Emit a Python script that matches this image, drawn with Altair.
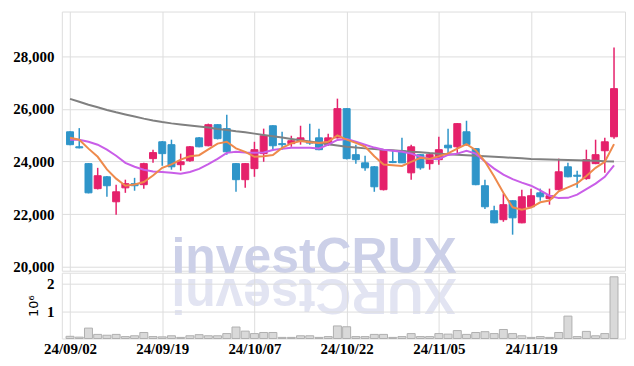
import altair as alt
import pandas as pd

dates = [
    "24/09/02", "24/09/03", "24/09/04", "24/09/05", "24/09/06", "24/09/09", "24/09/10", "24/09/11",
    "24/09/12", "24/09/13", "24/09/19", "24/09/20", "24/09/23", "24/09/24", "24/09/25", "24/09/26",
    "24/09/27", "24/09/30", "24/10/02", "24/10/04", "24/10/07", "24/10/08", "24/10/10", "24/10/11",
    "24/10/14", "24/10/15", "24/10/16", "24/10/17", "24/10/18", "24/10/21", "24/10/22", "24/10/23",
    "24/10/24", "24/10/25", "24/10/28", "24/10/29", "24/10/30", "24/10/31", "24/11/01", "24/11/04",
    "24/11/05", "24/11/06", "24/11/07", "24/11/08", "24/11/11", "24/11/12", "24/11/13", "24/11/14",
    "24/11/15", "24/11/18", "24/11/19", "24/11/20", "24/11/21", "24/11/22", "24/11/25", "24/11/26",
    "24/11/27", "24/11/28", "24/11/29", "24/12/02",
]
opens = [
    25130, 24560, 23920, 22970, 23420, 22470, 23000, 23160, 23120, 24110,
    24750, 24640, 23880, 24030, 24900, 24600, 25400, 25250, 23920, 23310,
    23730, 24300, 25360, 24680, 24680, 24790, 24750, 24900, 24640, 24900,
    26010, 24260, 23950, 23800, 22930, 24000, 24410, 23570, 24260, 23920,
    24070, 24620, 24560, 25130, 24490, 23080, 22130, 21790, 22510, 21670,
    22280, 22810, 22590, 22930, 23800, 23480, 23350, 23920, 24410, 24940,
]
highs = [
    25150, 25270, 23940, 23760, 23450, 23120, 23310, 23380, 23950, 24450,
    24780, 24830, 24300, 24590, 24930, 25440, 25420, 25780, 23940, 23940,
    24750, 25250, 25380, 25130, 24980, 25360, 25440, 25250, 25060, 26390,
    26030, 24640, 24220, 23830, 24470, 24410, 24900, 24640, 24280, 24280,
    24940, 25250, 25460, 25550, 24500, 23310, 22320, 22780, 22530, 22930,
    22970, 22970, 22970, 24110, 23950, 23650, 24450, 24830, 24900, 28330,
]
lows = [
    24620, 24500, 22790, 22940, 22660, 21980, 22810, 22890, 22970, 23950,
    23840, 23690, 23650, 23990, 24540, 24580, 24840, 24260, 22850, 23000,
    23420, 23990, 24450, 24450, 24560, 24640, 24640, 24430, 24600, 24880,
    24080, 23920, 23650, 22850, 22900, 23940, 23940, 23310, 23690, 23690,
    23880, 24260, 24260, 24600, 23100, 22200, 21650, 21710, 21220, 21650,
    22260, 22510, 22360, 22900, 23400, 23000, 23310, 23900, 23570, 24870,
]
closes = [
    24640, 24520, 22810, 23460, 23080, 22850, 23160, 23080, 23920, 24340,
    24300, 23800, 23990, 24560, 24560, 25400, 24870, 24370, 23310, 23920,
    24450, 24980, 24600, 24640, 24790, 24900, 24700, 24450, 24900, 26010,
    24110, 24070, 23760, 23040, 24450, 23960, 23950, 24560, 23760, 24260,
    24450, 24520, 25440, 24640, 23120, 22280, 21670, 22360, 21860, 22660,
    22700, 22660, 22700, 23610, 23420, 23440, 24070, 24260, 24750, 26770,
]
volumes_m = [
    0.08, 0.05, 0.38, 0.15, 0.12, 0.15, 0.07, 0.10, 0.22, 0.07,
    0.06, 0.10, 0.04, 0.10, 0.14, 0.10, 0.10, 0.18, 0.42, 0.27,
    0.18, 0.22, 0.22, 0.04, 0.04, 0.10, 0.10, 0.04, 0.07, 0.46,
    0.43, 0.07, 0.07, 0.15, 0.15, 0.04, 0.07, 0.18, 0.07, 0.07,
    0.18, 0.16, 0.29, 0.15, 0.22, 0.25, 0.18, 0.33, 0.18, 0.10,
    0.04, 0.07, 0.04, 0.22, 0.82, 0.07, 0.26, 0.10, 0.18, 2.26,
]
ma5 = [
    24900, 24830, 24490, 24180, 23700, 23350, 23080, 23130, 23220, 23470,
    23760, 23890, 24070, 24200, 24240, 24460, 24680, 24750, 24500, 24370,
    24180, 24200, 24250, 24520, 24690, 24780, 24730, 24700, 24750, 24990,
    24830, 24710, 24570, 24200, 23890, 23860, 23830, 23990, 24140, 24100,
    24200, 24310, 24490, 24660, 24430, 24000, 23430, 22810, 22260, 22170,
    22250, 22450, 22520, 22870, 23020, 23170, 23450, 23760, 23990, 24660,
]
ma20 = [
    24830, 24830, 24750, 24640, 24450, 24220, 23950, 23800, 23690, 23620,
    23600, 23570, 23540, 23600, 23720, 23900, 24100, 24330, 24370, 24340,
    24330, 24340, 24440, 24490, 24520, 24520, 24520, 24500, 24640, 24820,
    24860, 24750, 24640, 24530, 24450, 24410, 24370, 24300, 24180, 24100,
    24100, 24250, 24300, 24410, 24300, 24000, 23730, 23500, 23330, 23200,
    23080, 22900, 22700, 22610, 22620, 22740, 22950, 23160, 23420, 23850,
]
ma120 = [
    26380, 26270, 26160, 26060, 25960, 25870, 25790, 25710, 25630, 25560,
    25500, 25450, 25410, 25370, 25330, 25290, 25240, 25200, 25150, 25110,
    25060, 25010, 24960, 24910, 24860, 24810, 24760, 24710, 24660, 24610,
    24560, 24530, 24500, 24480, 24450, 24430, 24400, 24370, 24350, 24320,
    24300, 24280, 24260, 24240, 24220, 24200, 24180, 24160, 24140, 24120,
    24100, 24090, 24080, 24070, 24060, 24050, 24040, 24030, 24010, 24000,
]

UP = "#e5216b"
DOWN = "#2f95c9"
FONT = "Liberation Sans Narrow"

df = pd.DataFrame({
    "idx": list(range(len(dates))),
    "date": dates,
    "open": opens,
    "high": highs,
    "low": lows,
    "close": closes,
    "vol": volumes_m,
    "ma5": ma5,
    "ma20": ma20,
    "ma120": ma120,
})
df["dir"] = ["up" if c >= o else "down" for o, c in zip(opens, closes)]

tick_idx = [0, 10, 20, 30, 40, 50]
label_expr = "[" + ",".join("'%s'" % dates[i] for i in tick_idx) + "][round(datum.value/10)]"

W = 565
xs = alt.Scale(domain=[-0.35, 59.65], nice=False, zero=False)
ys = alt.Scale(domain=[19850, 29700], nice=False, zero=False)
cscale = alt.Scale(domain=["up", "down"], range=[UP, DOWN])

x_price = alt.X("idx:Q", scale=xs,
                axis=alt.Axis(values=tick_idx, labels=False, ticks=False, domain=False,
                              grid=True, title=None))
y_price = alt.Y("low:Q", scale=ys,
                axis=alt.Axis(values=[20000, 22000, 24000, 26000, 28000], format=",.0f",
                              title=None, ticks=False, domain=False, labelPadding=8,
                              labelFontSize=15, labelFont=FONT, labelFontWeight="bold"))

base = alt.Chart(df)

wm = alt.Chart(pd.DataFrame({"t": ["investCRUX"]})).mark_text(
    align="left", baseline="alphabetic", font="Liberation Sans", fontSize=50,
    fontWeight="bold", color="#ccd0e8").encode(
    text="t:N", x=alt.value(110), y=alt.value(262))
wm_reflect = alt.Chart(pd.DataFrame({"t": ["XURCtsevni"]})).mark_text(
    align="left", baseline="alphabetic", font="Liberation Sans", fontSize=50,
    fontWeight="bold", angle=180, color="#e2e4f2").encode(
    text="t:N", x=alt.value(396), y=alt.value(268))

wicks = base.mark_rule(strokeWidth=1.5).encode(
    x=x_price, y=y_price, y2="high:Q",
    color=alt.Color("dir:N", scale=cscale, legend=None))
bodies = base.mark_bar(size=7, strokeWidth=1).encode(
    x=x_price, y="open:Q", y2="close:Q",
    color=alt.Color("dir:N", scale=cscale, legend=None),
    stroke=alt.Stroke("dir:N", scale=cscale, legend=None))

l120 = base.mark_line(color="#808080", strokeWidth=2).encode(x=x_price, y="ma120:Q")
l20 = base.mark_line(color="#c95ee8", strokeWidth=2).encode(x=x_price, y="ma20:Q")
l5 = base.mark_line(color="#ee8a4c", strokeWidth=2).encode(x=x_price, y="ma5:Q")

price = alt.layer(wm, wm_reflect, wicks, bodies, l120, l20, l5).properties(width=W, height=260)

vol = base.mark_bar(size=8, fill="#d9d9d9", stroke="#b0b0b0", strokeWidth=1).encode(
    x=alt.X("idx:Q", scale=xs,
            axis=alt.Axis(values=tick_idx, labelExpr=label_expr, ticks=False, domain=False,
                          grid=True, title=None, labelPadding=3, labelFontSize=15,
                          labelFont=FONT, labelFontWeight="bold")),
    y=alt.Y("vol:Q", scale=alt.Scale(domain=[0, 2.41], nice=False),
            axis=alt.Axis(values=[1, 2], title="10⁶", ticks=False, domain=False,
                          labelPadding=8, labelFontSize=15, labelFont=FONT,
                          labelFontWeight="bold", titleFontSize=13,
                          titleFontWeight="normal", titleFont="DejaVu Sans",
                          titlePadding=6)),
).properties(width=W, height=66)

chart = alt.vconcat(price, vol, spacing=2, bounds="flush").properties(
    padding={"left": 4, "top": 2, "right": 0, "bottom": 0}
).configure_view(stroke="#cfcfcf").configure_axis(
    labelColor="#333333",
    gridColor="#c5c9dc", gridDash=[2, 3], gridWidth=1,
).configure(background="white")

chart.save("out.html", embed_options={"renderer": "svg", "actions": False})
